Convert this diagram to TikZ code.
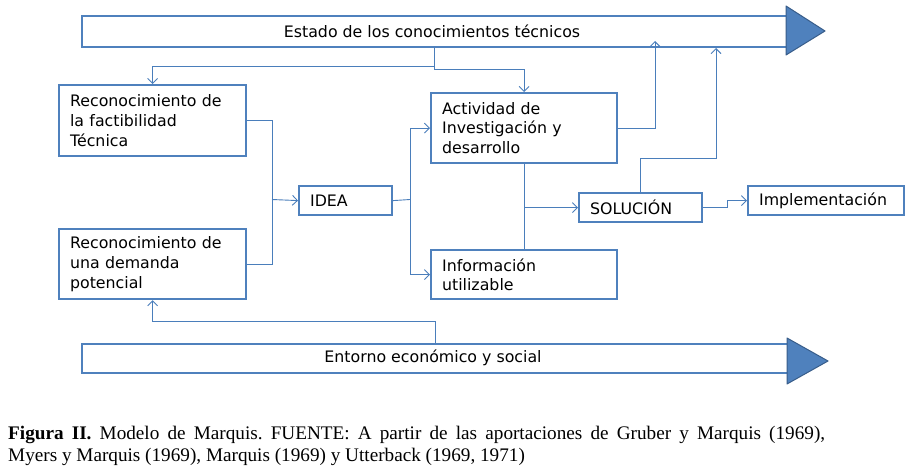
\documentclass[tikz,border=0pt]{standalone}
\usepackage{fontspec}
\setmainfont{DejaVu Sans}
\newfontfamily\capfont{Liberation Serif}
\usetikzlibrary{arrows.meta}
\definecolor{bl}{RGB}{79,129,189}
\definecolor{bld}{RGB}{56,93,138}
\definecolor{ln}{RGB}{74,126,187}
\frenchspacing
\begin{document}
\begin{tikzpicture}[x=1pt,y=-1pt,
  box/.style={draw=bl,line width=2.2pt,fill=white,anchor=north west,inner xsep=10pt,inner ysep=0pt,align=left,font=\fontsize{15.8}{19.6}\selectfont},
  bar/.style={draw=bl,line width=2pt,fill=white,anchor=north west,inner sep=0pt},
  bartext/.style={font=\fontsize{15.8}{19}\selectfont},
  conn/.style={draw=ln,line width=0.9pt},
  tip/.style={conn,-{Straight Barb[length=5pt,width=10pt,line width=0.9pt]}},
  bigtip/.style={fill=bl,draw=bld,line width=1pt,line join=round}]
\useasboundingbox[fill=white] (0,0) rectangle (912,470);
% bars
\node[bar,minimum width=705pt,minimum height=31pt] (topbar) at (81,15) {};
\node[bartext] (toptext) at (432,31) {Estado de los conocimientos técnicos};
\filldraw[bigtip] (786,6) -- (825,31) -- (786,55) -- cycle;
\node[bar,minimum width=706pt,minimum height=29pt] (botbar) at (81,343) {};
\node[bartext] (bottext) at (433,358) {Entorno económico y social};
\filldraw[bigtip] (787,338) -- (828,361) -- (787,384) -- cycle;
% boxes
\node[box,minimum width=187pt,minimum height=71pt,text width=165pt] (b1) at (58,84) {Reconocimiento de\\la factibilidad\\Técnica};
\node[box,minimum width=187pt,minimum height=70pt,text width=165pt] (b2) at (58,228) {Reconocimiento de\\una demanda\\potencial};
\node[box,minimum width=93pt,minimum height=29pt,text width=71pt] (idea) at (298,185) {IDEA};
\node[box,minimum width=186pt,minimum height=70pt,text width=164pt] (act) at (430,92) {Actividad de\\Investigación y\\desarrollo};
\node[box,minimum width=186pt,minimum height=49pt,text width=164pt] (info) at (430,249) {Información\\utilizable};
\node[box,minimum width=123pt,minimum height=29pt,text width=101pt] (sol) at (578,192) {SOLUCIÓN};
\node[box,minimum width=156pt,minimum height=29pt,text width=134pt] (impl) at (747,185) {Implementación};
% connectors
\draw[tip] (topbar.south) |- (b1.north |- 0,66) -- (b1.north);
\draw[tip] (topbar.south) |- (act.north |- 0,69) -- (act.north);
\coordinate (j1) at (272,199.5);
\draw[conn] (b1.east) -| (j1);
\draw[conn] (b2.east) -| (j1);
\draw[tip] (j1) -- (idea.west);
\coordinate (j2) at (410,199.5);
\draw[conn] (idea.east) -- (j2);
\draw[tip] (j2) |- (act.west);
\draw[tip] (j2) |- (info.west);
\draw[conn] (act.south) -- (info.north);
\draw[tip] (act.south |- sol.west) -- (sol.west);
\draw[tip] (act.east) -| (655,41);
\draw[tip] (sol.north) |- (716,158) -- (716,48);
\draw[tip] (sol.east) -- ++(24,0) |- (impl.west);
\draw[tip] (botbar.north) |- (b2.south |- 0,321) -- (b2.south);
% caption
\node[anchor=north west,inner sep=0pt,text width=817pt,align=justify,font=\capfont\fontsize{19.2}{22}\selectfont] (cap) at (8,426)
 {\textbf{Figura II.} Modelo de Marquis. FUENTE: A partir de las aportaciones de Gruber y Marquis (1969),\linebreak Myers y Marquis (1969), Marquis (1969) y Utterback (1969, 1971)};
\end{tikzpicture}
\end{document}
